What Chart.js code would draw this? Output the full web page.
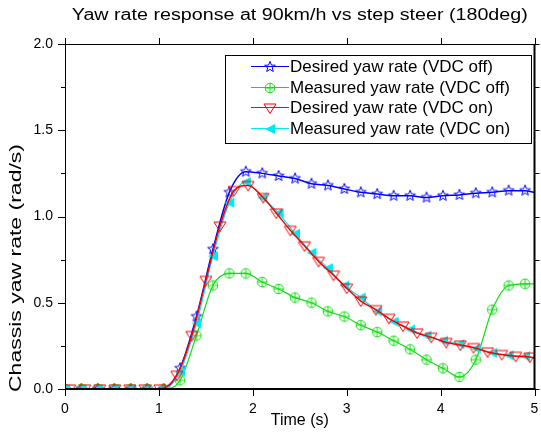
<!DOCTYPE html>
<html>
<head>
<meta charset="utf-8">
<script src="https://cdn.jsdelivr.net/npm/chart.js@4.4.1/dist/chart.umd.min.js"></script>
<style>
html, body { margin: 0; padding: 0; background: #fff; }
</style>
</head>
<body>
<canvas id="yawChart" width="541" height="433"></canvas>
<script>
// DATA
const chartTitle = 'Yaw rate response at 90km/h vs step steer (180deg)';
const xTitle = 'Time (s)';
const yTitle = 'Chassis yaw rate (rad/s)';
const seriesNames = ['Desired yaw rate (VDC off)', 'Measured yaw rate (VDC off)', 'Desired yaw rate (VDC on)', 'Measured yaw rate (VDC on)'];
const xTicks = [0, 1, 2, 3, 4, 5];
const yTicks = [0, 0.5, 1.0, 1.5, 2.0];

// time of the samples (s), 0.175 s grid, last one = end of line
const timeA = [0, 0.175, 0.35, 0.525, 0.7, 0.875, 1.05, 1.225, 1.4, 1.575, 1.75, 1.925, 2.1, 2.275, 2.45,
  2.625, 2.8, 2.975, 3.15, 3.325, 3.5, 3.675, 3.85, 4.025, 4.2, 4.375, 4.55, 4.725, 4.9, 5.0];
// time of the red samples
const timeB = [0.05, 0.21, 0.37, 0.53, 0.69, 0.85, 1.01, 1.19, 1.35, 1.50, 1.65, 1.80, 1.95, 2.11, 2.25, 2.40,
  2.55, 2.70, 2.86, 3.00, 3.15, 3.31, 3.45, 3.60, 3.75, 3.90, 4.06, 4.21, 4.35, 4.50, 4.65, 4.80, 4.95, 5.0];

const desiredOff = [0, 0, 0, 0, 0, 0, 0, 0.12, 0.42, 0.81, 1.14, 1.26, 1.25, 1.235, 1.22,
  1.19, 1.18, 1.16, 1.14, 1.13, 1.12, 1.12, 1.11, 1.12, 1.125, 1.135, 1.14, 1.15, 1.15, 1.14];
const measuredOff = [0, 0, 0, 0, 0, 0, 0, 0.05, 0.31, 0.60, 0.67, 0.67, 0.62, 0.58, 0.53,
  0.50, 0.45, 0.42, 0.37, 0.33, 0.28, 0.23, 0.17, 0.12, 0.07, 0.17, 0.46, 0.60, 0.61, 0.61];
const desiredOn = [0, 0, 0, 0, 0, 0, 0, 0.08, 0.31, 0.63, 0.945, 1.15, 1.18, 1.11, 1.02, 0.92,
  0.83, 0.74, 0.66, 0.585, 0.51, 0.46, 0.41, 0.365, 0.325, 0.30, 0.27, 0.255, 0.24, 0.215, 0.20, 0.19, 0.185, 0.18];
const measuredOn = [0, 0, 0, 0, 0, 0, 0, 0.10, 0.38, 0.77, 1.08, 1.20, 1.11, 1.02, 0.90,
  0.79, 0.70, 0.60, 0.53, 0.45, 0.39, 0.345, 0.31, 0.28, 0.26, 0.235, 0.21, 0.195, 0.19, 0.18];

const FONT = '"Liberation Sans", Arial, sans-serif';
const BLUE = '#0000ff', GREEN = '#11dd11', RED = '#ff0000', CYAN = '#00e8f0';

// marker pictures
function makeMarker(kind, color) {
  const c = document.createElement('canvas');
  c.width = 14; c.height = 14;
  const g = c.getContext('2d');
  g.translate(7, 7);
  g.strokeStyle = color;
  g.fillStyle = color;
  g.lineWidth = 1;
  g.beginPath();
  if (kind === 'star') {
    for (let i = 0; i < 10; i++) {
      const r = i % 2 ? 2.4 : 5.6;
      const a = -Math.PI / 2 + i * Math.PI / 5;
      g.lineTo(r * Math.cos(a), r * Math.sin(a));
    }
    g.closePath();
    g.stroke();
  } else if (kind === 'circlePlus') {
    g.arc(0, 0, 4.8, 0, Math.PI * 2);
    g.moveTo(-4.8, 0); g.lineTo(4.8, 0);
    g.moveTo(0, -4.8); g.lineTo(0, 4.8);
    g.stroke();
  } else if (kind === 'triDown') {
    g.moveTo(-6, -4); g.lineTo(6, -4); g.lineTo(0, 5.5); g.closePath();
    g.stroke();
  } else if (kind === 'triLeft') {
    g.moveTo(-5, 0); g.lineTo(5, -5); g.lineTo(5, 5); g.closePath();
    g.fill();
  }
  return c;
}

const markers = [makeMarker('star', BLUE), makeMarker('circlePlus', GREEN), makeMarker('triDown', RED), makeMarker('triLeft', CYAN)];
const colors = [BLUE, GREEN, RED, CYAN];

function toPoints(ts, ys) {
  return ys.map((v, i) => ({ x: ts[i], y: v }));
}

function makeSet(i, ts, ys, width, order) {
  return {
    label: seriesNames[i],
    data: toPoints(ts, ys),
    borderColor: colors[i],
    backgroundColor: colors[i],
    borderWidth: width,
    pointStyle: markers[i],
    pointRadius: c => (c.raw && c.raw.x >= 5 ? 0 : 5),
    cubicInterpolationMode: 'monotone',
    fill: false,
    order: order
  };
}

// draw text squeezed/stretched to a given length
function fitText(ctx, text, len) {
  const w = ctx.measureText(text).width;
  ctx.save();
  ctx.scale(len / w, 1);
  ctx.fillText(text, 0, 0);
  ctx.restore();
}

// frame, ticks, titles, legend
const decor = {
  id: 'decor',
  afterDraw(chart) {
    const { ctx, chartArea: a, scales } = chart;
    const x = scales.x, y = scales.y;
    ctx.save();
    ctx.strokeStyle = '#000';
    ctx.lineWidth = 1;
    const line = (x1, y1, x2, y2) => { ctx.beginPath(); ctx.moveTo(x1, y1); ctx.lineTo(x2, y2); ctx.stroke(); };
    for (let v = 0; v <= 2.0001; v += 0.25) {
      const py = Math.round(y.getPixelForValue(v)) + 0.5;
      const major = Math.abs(v * 2 - Math.round(v * 2)) < 1e-6;
      line(a.left - (major ? 7 : 4), py, a.left, py);
      line(a.right, py, a.right + 5, py);
    }
    xTicks.forEach(v => {
      const px = Math.round(x.getPixelForValue(v)) + 0.5;
      line(px, a.bottom, px, a.bottom + 7);
      line(px, a.top - 6, px, a.top);
    });
    line(a.left + 0.5, a.top, a.left + 0.5, a.bottom);
    line(a.left, a.top + 0.5, a.right, a.top + 0.5);
    ctx.lineWidth = 2;
    line(a.left, a.bottom, a.right + 1, a.bottom);
    line(a.right, a.top, a.right, a.bottom);

    // titles
    ctx.fillStyle = '#000';
    ctx.textAlign = 'center';
    ctx.textBaseline = 'middle';
    ctx.font = '16px ' + FONT;
    ctx.save();
    ctx.translate((a.left + a.right) / 2, 16);
    fitText(ctx, chartTitle, 456);
    ctx.restore();
    ctx.font = '16px ' + FONT;
    ctx.fillText(xTitle, (a.left + a.right) / 2, 421);
    ctx.font = '16px ' + FONT;
    ctx.save();
    ctx.translate(17, 268);
    ctx.rotate(-Math.PI / 2);
    fitText(ctx, yTitle, 248);
    ctx.restore();

    // legend
    const bx = 225.5, by = 55.5, bw = 306, bh = 88;
    ctx.fillStyle = '#fff';
    ctx.fillRect(bx, by, bw, bh);
    ctx.lineWidth = 1;
    ctx.strokeStyle = '#000';
    ctx.strokeRect(bx, by, bw, bh);
    ctx.font = '17px ' + FONT;
    ctx.textAlign = 'left';
    seriesNames.forEach((name, i) => {
      const ly = Math.round(66 + i * 20.5) + 0.5;
      ctx.strokeStyle = colors[i];
      ctx.lineWidth = 1;
      line(251, ly, 289, ly);
      ctx.drawImage(markers[i], 270 - 7, Math.round(ly) - 7);
      ctx.fillStyle = '#000';
      ctx.fillText(name, 290, ly + 1);
    });
    ctx.restore();
  }
};

const chart = new Chart(document.getElementById('yawChart').getContext('2d'), {
  type: 'line',
  data: {
    datasets: [
      makeSet(0, timeA, desiredOff, 1.5, 3),
      makeSet(1, timeA, measuredOff, 1.2, 2),
      makeSet(3, timeA, measuredOn, 1.2, 1),
      makeSet(2, timeB, desiredOn, 1.5, 0)
    ]
  },
  options: {
    responsive: false,
    animation: false,
    devicePixelRatio: 1,
    layout: { padding: { top: 44, right: 4, left: 0, bottom: 0 } },
    plugins: {
      legend: { display: false },
      title: { display: false },
      tooltip: { enabled: false }
    },
    scales: {
      x: {
        type: 'linear',
        min: 0,
        max: 5,
        grid: { display: false, drawTicks: false },
        border: { display: false },
        afterFit: s => { s.height = 44; s.paddingLeft = 0; s.paddingRight = 0; },
        afterBuildTicks: s => { s.ticks = xTicks.map(v => ({ value: v })); },
        ticks: { padding: 12, color: '#000', font: { family: FONT, size: 14 }, maxRotation: 0, autoSkip: false,
          callback: v => String(v) }
      },
      y: {
        type: 'linear',
        min: 0,
        max: 2,
        grid: { display: false, drawTicks: false },
        border: { display: false },
        afterFit: s => { s.width = 65; s.paddingTop = 0; s.paddingBottom = 0; },
        afterBuildTicks: s => { s.ticks = yTicks.map(v => ({ value: v })); },
        ticks: { padding: 12, color: '#000', font: { family: FONT, size: 14 }, autoSkip: false,
          callback: v => v.toFixed(1) }
      }
    }
  },
  plugins: [decor]
});
</script>
</body>
</html>
